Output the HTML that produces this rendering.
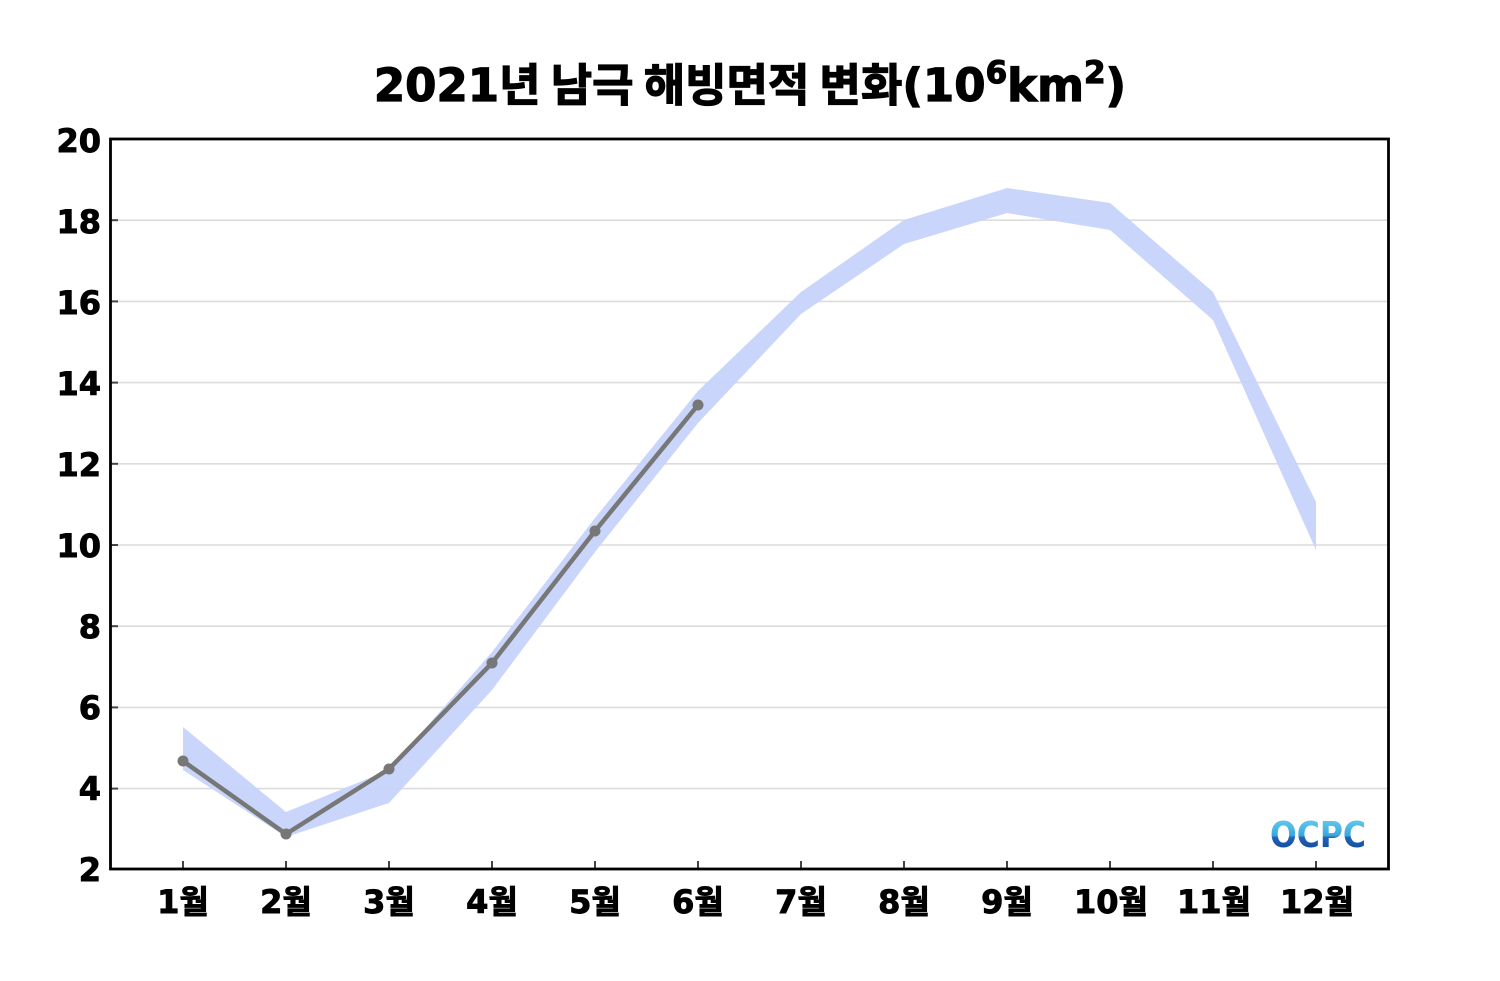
<!DOCTYPE html>
<html>
<head>
<meta charset="utf-8">
<style>
html,body{margin:0;padding:0;background:#fff;}
svg{display:block;}
.lat{font-family:"DejaVu Sans","Liberation Sans","Noto Sans CJK KR",sans-serif;font-weight:bold;}
.kr{font-family:"Noto Sans CJK KR","NanumGothic",sans-serif;font-weight:bold;}
</style>
</head>
<body>
<svg width="1500" height="981" viewBox="0 0 1500 981" xmlns="http://www.w3.org/2000/svg">
<defs>
<linearGradient id="og" x1="0" y1="0" x2="0" y2="1">
<stop offset="0" stop-color="#6fd3f0"/>
<stop offset="0.5" stop-color="#3aa8dc"/>
<stop offset="0.55" stop-color="#1f63b8"/>
<stop offset="1" stop-color="#0d3f8f"/>
</linearGradient>
</defs>
<rect width="1500" height="981" fill="#fff"/>

<!-- Title -->
<text x="750" y="101" text-anchor="middle" font-size="45" fill="#000" stroke="#000" stroke-width="1.2" class="lat"><tspan>2021</tspan><tspan class="kr">년 남극 해빙면적 변화</tspan><tspan>(10</tspan><tspan font-size="31" dy="-18">6</tspan><tspan dy="18">km</tspan><tspan font-size="31" dy="-18">2</tspan><tspan dy="18">)</tspan></text>

<!-- grid -->
<g stroke="#dcdcdc" stroke-width="1.6">
<line x1="111" x2="1388" y1="220.2" y2="220.2"/>
<line x1="111" x2="1388" y1="301.4" y2="301.4"/>
<line x1="111" x2="1388" y1="382.6" y2="382.6"/>
<line x1="111" x2="1388" y1="463.8" y2="463.8"/>
<line x1="111" x2="1388" y1="545" y2="545"/>
<line x1="111" x2="1388" y1="626.2" y2="626.2"/>
<line x1="111" x2="1388" y1="707.4" y2="707.4"/>
<line x1="111" x2="1388" y1="788.6" y2="788.6"/>
</g>

<!-- band -->
<polygon fill="#c6d3fb" fill-opacity="0.95" points="183,727 286,812 389,770 492,652 595,518 698,391 801,292 904,220 1007,188 1110,203 1213,292 1316,502 1316,550 1213,320 1110,230 1007,213 904,244 801,314 698,423 595,552 492,690 389,803 286,837 183,770"/>

<!-- data line -->
<polyline fill="none" stroke="#777" stroke-width="4.5" stroke-linejoin="round" points="183,761 286,834 389,769 492,663 595,531 698,405"/>
<g fill="#777">
<circle cx="183" cy="761" r="5.5"/>
<circle cx="286" cy="834" r="5.5"/>
<circle cx="389" cy="769" r="5.5"/>
<circle cx="492" cy="663" r="5.5"/>
<circle cx="595" cy="531" r="5.5"/>
<circle cx="698" cy="405" r="5.5"/>
</g>

<!-- y ticks -->
<g stroke="#444" stroke-width="2">
<line x1="111" x2="118" y1="220.2" y2="220.2"/>
<line x1="111" x2="118" y1="301.4" y2="301.4"/>
<line x1="111" x2="118" y1="382.6" y2="382.6"/>
<line x1="111" x2="118" y1="463.8" y2="463.8"/>
<line x1="111" x2="118" y1="545" y2="545"/>
<line x1="111" x2="118" y1="626.2" y2="626.2"/>
<line x1="111" x2="118" y1="707.4" y2="707.4"/>
<line x1="111" x2="118" y1="788.6" y2="788.6"/>
</g>
<!-- x ticks -->
<g stroke="#444" stroke-width="2">
<line x1="183" x2="183" y1="861" y2="869"/>
<line x1="286" x2="286" y1="861" y2="869"/>
<line x1="389" x2="389" y1="861" y2="869"/>
<line x1="492" x2="492" y1="861" y2="869"/>
<line x1="595" x2="595" y1="861" y2="869"/>
<line x1="698" x2="698" y1="861" y2="869"/>
<line x1="801" x2="801" y1="861" y2="869"/>
<line x1="904" x2="904" y1="861" y2="869"/>
<line x1="1007" x2="1007" y1="861" y2="869"/>
<line x1="1110" x2="1110" y1="861" y2="869"/>
<line x1="1213" x2="1213" y1="861" y2="869"/>
<line x1="1316" x2="1316" y1="861" y2="869"/>
</g>

<!-- frame -->
<rect x="110.5" y="139" width="1278" height="730" fill="none" stroke="#000" stroke-width="2.8"/>

<!-- y labels -->
<g class="lat" font-size="32" text-anchor="end" fill="#000" stroke="#000" stroke-width="0.9">
<text x="101" y="152">20</text>
<text x="101" y="233">18</text>
<text x="101" y="314">16</text>
<text x="101" y="395">14</text>
<text x="101" y="476">12</text>
<text x="101" y="557">10</text>
<text x="101" y="638">8</text>
<text x="101" y="719">6</text>
<text x="101" y="800">4</text>
<text x="101" y="881">2</text>
</g>

<!-- x labels -->
<g class="lat" font-size="32" text-anchor="middle" fill="#000" stroke="#000" stroke-width="0.9">
<text x="183" y="913">1<tspan class="kr">월</tspan></text>
<text x="286" y="913">2<tspan class="kr">월</tspan></text>
<text x="389" y="913">3<tspan class="kr">월</tspan></text>
<text x="492" y="913">4<tspan class="kr">월</tspan></text>
<text x="595" y="913">5<tspan class="kr">월</tspan></text>
<text x="698" y="913">6<tspan class="kr">월</tspan></text>
<text x="801" y="913">7<tspan class="kr">월</tspan></text>
<text x="904" y="913">8<tspan class="kr">월</tspan></text>
<text x="1007" y="913">9<tspan class="kr">월</tspan></text>
<text x="1111" y="913">10<tspan class="kr">월</tspan></text>
<text x="1214" y="913">11<tspan class="kr">월</tspan></text>
<text x="1317" y="913">12<tspan class="kr">월</tspan></text>
</g>

<!-- OCPC logo -->
<text x="1270" y="847" font-size="36" class="lat" fill="url(#og)" textLength="96" lengthAdjust="spacingAndGlyphs">OCPC</text>
</svg>
</body>
</html>
